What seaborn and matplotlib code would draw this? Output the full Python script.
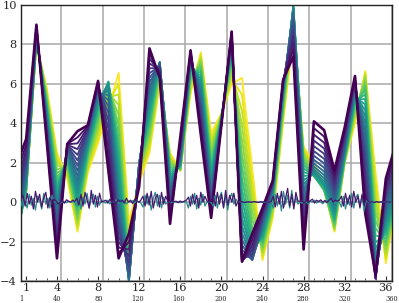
import numpy as np
import pandas as pd
import matplotlib
matplotlib.use("Agg")
import matplotlib.pyplot as plt
import seaborn as sns

# ---------------- data ----------------
x_main = list(range(0, 38))
first_frame = [1.8, 3.2, 9.0, 3.1, -2.85, 2.95, 3.6, 3.9, 6.15, 1.6, -2.85, -1.6, 0.8,
               7.8, 6.3, -1.1, 3.3, 7.7, 3.4, -0.8, 3.9, 8.65, -3.0, -1.6, -0.3, 1.1,
               6.2, 7.4, -2.4, 4.1, 3.65, 1.6, 3.8, 6.4, -0.6, -3.7, 1.2, 3.0]
mid_frame = [-2.0, 1.0, 8.5, 4.5, 0.0, 2.5, 0.5, 3.0, 5.2, 5.9, 1.0, -4.0, 2.0,
             5.0, 7.1, 1.0, 2.0, 7.0, 6.0, 1.0, 4.2, 8.0, -1.0, -2.7, -1.5, 0.5,
             5.5, 9.9, 1.0, 1.5, 1.0, -0.5, 2.5, 5.5, 4.5, -3.0, -1.0, 0.5]
last_frame = [-0.2, 0.6, 8.0, 5.8, 2.5, 1.2, -1.5, 1.5, 3.0, 4.7, 6.55, -1.0, 1.0,
              2.5, 6.0, 2.5, 1.6, 5.5, 7.6, 3.5, 4.5, 6.0, 6.3, 1.7, -2.95, -0.8,
              4.0, 8.5, 2.8, 2.0, 0.8, -1.5, 2.0, 4.0, 6.65, 1.5, -3.1, 0.0]
n_frames = 24

noise_x = list(range(1, 360, 2))
noise_purple = [0.1, 0.35, -0.2, 0.45, -0.1, 0.3, -0.35, 0.55, 0.0, 0.4, -0.25, 0.2, 0.5, -0.3, 0.25, -0.1, 0.15,
                0.05, -0.1, 0.0, 0.08, -0.05, 0.12, 0.05, 0.0, 0.1, 0.03,
                0.2, -0.15, 0.4, -0.2, 0.5, 0.1, -0.3, 0.6, -0.1, 0.35, -0.25, 0.45, 0.0,
                0.05, 0.1, -0.05, 0.15, 0.0, 0.08, -0.1, 0.12, 0.02, 0.1, -0.05, 0.2, 0.0, 0.1, -0.08, 0.15, 0.05, 0.0, 0.1,
                0.3, -0.2, 0.45, -0.15, 0.55, -0.3, 0.2, 0.4, -0.25, 0.5, -0.1, 0.3,
                0.05, 0.0, 0.08, 0.02, 0.05, -0.03, 0.06, 0.0, 0.05, 0.1,
                0.25, -0.2, 0.4, -0.1, 0.35, -0.3, 0.5, 0.0, 0.3,
                0.05, 0.0, 0.05,
                0.3, -0.2, 0.5, -0.1, 0.4, -0.3, 0.6, -0.15, 0.35, 0.0, 0.45, -0.2,
                0.02, 0.0, 0.03, -0.02, 0.0, 0.02, 0.0, 0.01, 0.03, 0.0, -0.02, 0.02, 0.0, 0.03, 0.01, 0.0, 0.02,
                0.3, -0.25, 0.45, -0.1, 0.55, -0.3, 0.2, 0.7, -0.2, 0.4, -0.35, 0.5, 0.05,
                0.05, 0.1, -0.05, 0.12, 0.0, 0.08, 0.15, -0.05, 0.1, 0.02, 0.12, 0.0, 0.08, -0.03, 0.1, 0.2, 0.0, 0.1, 0.05, 0.1,
                0.3, -0.2, 0.45, -0.1, 0.35, -0.25, 0.55, 0.0, 0.3, -0.3, 0.4, -0.15, 0.2,
                0.03, 0.0, 0.02, -0.02, 0.03, 0.0, 0.02, 0.01, 0.0, 0.02, 0.0, 0.01]
noise_teal = [-0.2, 0.25, 0.05, -0.3, 0.4, -0.15, 0.2, -0.4, 0.3, 0.1, -0.35, 0.45, -0.1, 0.2, -0.3, 0.35, 0.0,
              0.0, 0.05, -0.05, 0.02, 0.0, -0.03, 0.05, 0.0, 0.02, -0.02,
              -0.2, 0.3, -0.35, 0.25, -0.1, 0.45, -0.3, 0.2, 0.4, -0.25, 0.3, -0.15, 0.1,
              0.0, -0.05, 0.1, -0.1, 0.05, 0.0, 0.12, -0.08, 0.05, -0.02, 0.1, -0.1, 0.05, 0.0, 0.08, -0.05, 0.1, 0.0, -0.05,
              -0.25, 0.35, -0.1, 0.3, -0.4, 0.2, 0.5, -0.2, 0.35, -0.3, 0.25, -0.1,
              0.0, 0.03, -0.02, 0.04, 0.0, 0.02, -0.03, 0.03, 0.0, 0.02,
              -0.3, 0.3, -0.1, 0.45, -0.35, 0.2, -0.15, 0.4, -0.2,
              0.0, 0.02, -0.02,
              -0.2, 0.35, -0.3, 0.25, 0.5, -0.25, 0.3, -0.4, 0.2, 0.45, -0.1, 0.15,
              0.0, 0.02, -0.01, 0.01, 0.0, -0.02, 0.01, 0.0, 0.02, -0.01, 0.0, 0.01, -0.01, 0.0, 0.02, 0.0, -0.01,
              -0.3, 0.4, -0.2, 0.3, -0.45, 0.55, -0.1, 0.35, -0.3, 0.6, -0.2, 0.25, -0.1,
              0.0, -0.05, 0.08, 0.0, -0.1, 0.05, 0.0, 0.1, -0.05, 0.06, 0.0, -0.08, 0.05, 0.1, -0.02, 0.04, 0.0, -0.05, 0.08, 0.0,
              -0.25, 0.3, -0.35, 0.2, -0.15, 0.45, -0.3, 0.25, 0.4, -0.2, 0.3, -0.45, 0.1,
              0.0, 0.02, -0.01, 0.0, 0.02, -0.02, 0.0, 0.01, 0.0, -0.01, 0.02, 0.0]

x_ticks = [1, 4, 8, 12, 16, 20, 24, 28, 32, 36]
y_ticks = [-4, -2, 0, 2, 4, 6, 8, 10]
sec_ticks = [1, 40, 80, 120, 160, 200, 240, 280, 320, 360]

# ---------------- style ----------------
sns.set_style("white")
plt.rcParams["font.family"] = ["DejaVu Serif"]
plt.rcParams["axes.unicode_minus"] = True

fig, ax = plt.subplots(figsize=(3.99, 3.03), dpi=100)
fig.subplots_adjust(left=21 / 399, right=392 / 399, top=1 - 5 / 303, bottom=1 - 281 / 303)

axg = ax.twiny()   # secondary axis: labels + vertical grid (below)
axn = ax.twiny()   # noise series (on top)
axg.set_zorder(0)
ax.set_zorder(1)
axn.set_zorder(2)
ax.patch.set_visible(False)
axg.patch.set_visible(True)
axg.patch.set_facecolor("white")

grid_kw = dict(color="#a8a8a8", linewidth=1.1)

# secondary axis
axg.set_xlim(1, 360)
axg.set_xticks(sec_ticks)
axg.set_xticklabels([str(v) for v in sec_ticks])
axg.xaxis.set_ticks_position("bottom")
axg.xaxis.set_label_position("bottom")
axg.tick_params(axis="x", length=0, labelsize=4.8, pad=10.2)
for lbl in axg.get_xticklabels():
    if lbl.get_text() not in ("1", "360"):
        lbl.set_ha("right")
axg.grid(True, axis="x", **grid_kw)
for s in axg.spines.values():
    s.set_visible(False)

# main frames
cmap = plt.get_cmap("viridis")
P = np.array(first_frame)
M = np.array(mid_frame)
Y = np.array(last_frame)
for k in reversed(range(n_frames)):
    t = k / (n_frames - 1)
    w0 = 2 * (t - 0.5) * (t - 1)
    w1 = -4 * t * (t - 1)
    w2 = 2 * t * (t - 0.5)
    vals = w0 * P + w1 * M + w2 * Y
    sns.lineplot(x=x_main, y=vals, ax=ax, color=cmap(t),
                 linewidth=1.9 if k == 0 else 1.35, estimator=None, sort=False)

ax.set_xlim(0.5, 36.6)
ax.set_ylim(-4, 10)
ax.set_xticks(x_ticks)
ax.set_xticks(list(range(1, 37)), minor=True)
ax.set_yticks(y_ticks)
ax.tick_params(axis="both", which="major", direction="in", labelsize=8.2, length=3.5, color="#333333")
ax.tick_params(axis="x", which="major", pad=1.2)
ax.tick_params(axis="x", which="minor", direction="in", length=2.5, color="#333333")
ax.tick_params(axis="y", pad=3)
ax.grid(True, axis="y", **grid_kw)
ax.set_axisbelow(True)
for s in ax.spines.values():
    s.set_visible(True)
    s.set_color("#222222")
    s.set_linewidth(1.0)

# noise series
axn.set_xlim(1, 360)
sns.lineplot(x=noise_x, y=noise_teal, ax=axn, color="#2a8a8c", linewidth=0.9, estimator=None, sort=False)
sns.lineplot(x=noise_x, y=noise_purple, ax=axn, color="#46186e", linewidth=0.9, estimator=None, sort=False)
axn.axis("off")

ax.set_xlabel("")
ax.set_ylabel("")
axg.set_xlabel("")

fig.savefig("out.png", dpi=100)
